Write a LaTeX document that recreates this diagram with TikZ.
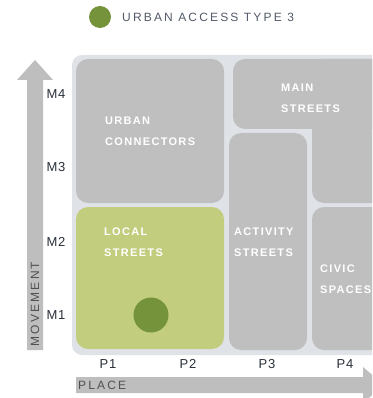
\documentclass[tikz,border=0pt]{standalone}
\usepackage{fontspec}
\setmainfont{Liberation Sans}
\newfontfamily\boxfont[LetterSpace=12]{Liberation Sans}
\newfontfamily\axisfont[LetterSpace=18]{Liberation Sans}
\newfontfamily\tickfont[LetterSpace=6]{Liberation Sans}
\definecolor{boxgray}{HTML}{BFBFBF}
\definecolor{panelgray}{HTML}{DFE2E7}
\definecolor{localgreen}{HTML}{C2CD7E}
\definecolor{dotgreen}{HTML}{74933A}
\definecolor{labelink}{HTML}{2A303A}
\definecolor{legendink}{HTML}{535A68}
\definecolor{arrowgray}{HTML}{BEBEBE}
\definecolor{axistext}{HTML}{505050}
\tikzset{
  boxlabel/.style={anchor=west, align=left, inner sep=0pt, text=white,
    font=\boxfont\bfseries\fontsize{11}{21}\selectfont},
  ticklabel/.style={inner sep=0pt, text=labelink,
    font=\tickfont\fontsize{13}{13}\selectfont},
  axislabel/.style={inner sep=0pt, text=axistext,
    font=\axisfont\fontsize{12}{12}\selectfont}
}
\begin{document}
\begin{tikzpicture}[x=1pt, y=-1pt]
            % 画布范围
            \clip (0,0) rectangle (372,398);
            \fill[white] (0,0) rectangle (372,398);

            % 图例
            \fill[dotgreen] (100,17) circle (11);
            \node[axislabel, text=legendink, anchor=west] (legend) at (122,17) {URBAN ACCESS TYPE 3};

            % 背景面板
            \fill[panelgray, rounded corners=10pt] (72,55) rectangle (420,355);

            % 各街道类型的格子
            \fill[boxgray, rounded corners=12pt] (76,59) rectangle (224,203);   % urban connectors
            \fill[boxgray, rounded corners=12pt] (233,59) rectangle (420,129);  % main streets (上)
            \fill[boxgray, rounded corners=12pt] (312,59) rectangle (420,203);  % main streets (右)
            \fill[boxgray, rounded corners=12pt] (229,133) rectangle (307,350); % activity streets
            \fill[boxgray, rounded corners=12pt] (312,207) rectangle (420,350); % civic spaces
            \fill[localgreen, rounded corners=12pt] (76,207) rectangle (224,349); % local streets

            % 标记 urban access type 3
            \fill[dotgreen] (151,315) circle (17.5);

            % 格子里的文字
            \node[boxlabel] (urban) at (105,131.5) {URBAN\\CONNECTORS};
            \node[boxlabel] (main) at (281,98.5) {MAIN\\STREETS};
            \node[boxlabel] (local) at (104,242) {LOCAL\\STREETS};
            \node[boxlabel] (activity) at (234,242) {ACTIVITY\\STREETS};
            \node[boxlabel] (civic) at (320,279) {CIVIC\\SPACES};

            % 纵轴箭头 (movement)
            \fill[arrowgray] (27,350) -- (27,80) -- (17,80) -- (35,60) -- (53,80) -- (43,80) -- (43,350) -- cycle;
            \node[axislabel, rotate=90] (movement) at (35,304) {MOVEMENT};

            % 横轴箭头 (place)
            \fill[arrowgray] (76,377) -- (363,377) -- (363,367) -- (384,385) -- (363,403) -- (363,393) -- (76,393) -- cycle;
            \node[axislabel, anchor=west] (place) at (78,385.5) {PLACE};

            % 刻度标注
            \node[ticklabel] (m4) at (56,94) {M4};
            \node[ticklabel] (m3) at (56,167) {M3};
            \node[ticklabel] (m2) at (56,242) {M2};
            \node[ticklabel] (m1) at (56,315) {M1};
            \node[ticklabel] (p1) at (108,364) {P1};
            \node[ticklabel] (p2) at (188,364) {P2};
            \node[ticklabel] (p3) at (267,364) {P3};
            \node[ticklabel] (p4) at (345,364) {P4};
\end{tikzpicture}
\end{document}
